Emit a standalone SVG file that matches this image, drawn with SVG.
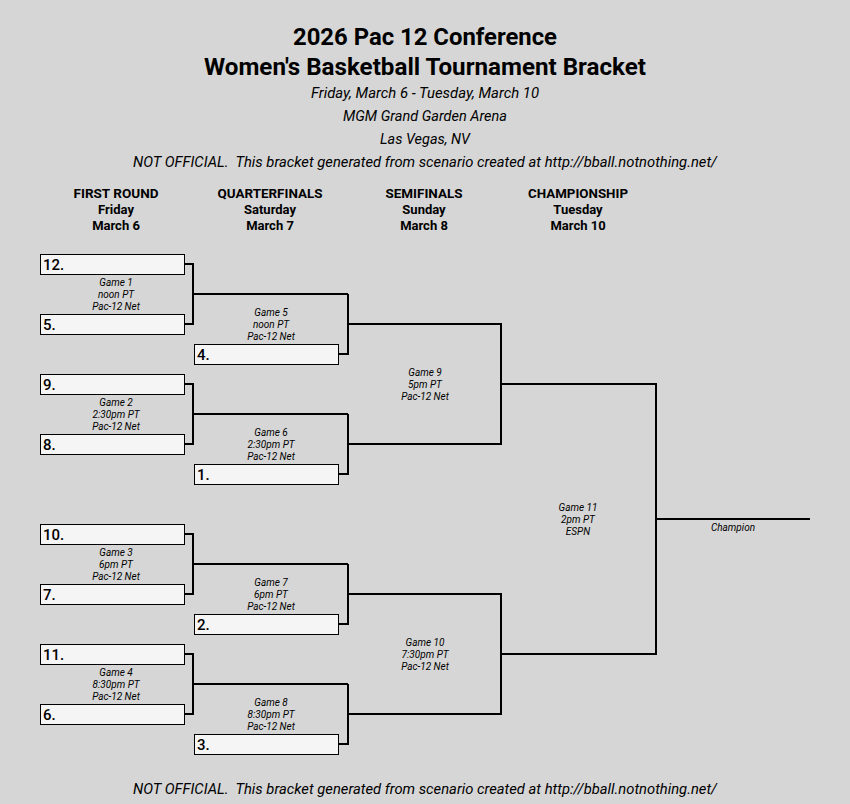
<svg xmlns="http://www.w3.org/2000/svg" width="850" height="804" viewBox="0 0 850 804">
<style>
text{font-family:Roboto,"Liberation Sans",sans-serif;fill:#000}
.t{font-size:23px;font-weight:bold;text-anchor:middle}
.s{font-size:14px;font-style:italic;text-anchor:middle}
.h{font-size:13px;font-weight:bold;text-anchor:middle}
.g{font-size:10px;font-style:italic;text-anchor:middle}
.seed{font-size:15px;font-weight:500}
.box{fill:#f5f5f5;stroke:#000;stroke-width:1}
.c{fill:none;stroke:#000;stroke-width:2}
</style>
<rect width="850" height="804" fill="#d6d6d6"/>
<g id="title">
<text class="t" x="425" y="45" textLength="264" lengthAdjust="spacingAndGlyphs">2026 Pac 12 Conference</text>
<text class="t" x="425" y="75" textLength="442" lengthAdjust="spacingAndGlyphs">Women's Basketball Tournament Bracket</text>
<text class="s" x="425" y="98" textLength="228" lengthAdjust="spacingAndGlyphs">Friday, March 6 - Tuesday, March 10</text>
<text class="s" x="425" y="121" textLength="164" lengthAdjust="spacingAndGlyphs">MGM Grand Garden Arena</text>
<text class="s" x="425" y="144" textLength="90" lengthAdjust="spacingAndGlyphs">Las Vegas, NV</text>
<text class="s" x="425" y="167" textLength="584" lengthAdjust="spacingAndGlyphs">NOT OFFICIAL.&#160; This bracket generated from scenario created at http://bball.notnothing.net/</text>
<text class="s" x="425" y="794" textLength="584" lengthAdjust="spacingAndGlyphs">NOT OFFICIAL.&#160; This bracket generated from scenario created at http://bball.notnothing.net/</text>
</g>
<g id="headers">
<text class="h" x="116" y="198" textLength="85" lengthAdjust="spacingAndGlyphs">FIRST ROUND</text>
<text class="h" x="116" y="214">Friday</text>
<text class="h" x="116" y="230">March 6</text>
<text class="h" x="270" y="198" textLength="105" lengthAdjust="spacingAndGlyphs">QUARTERFINALS</text>
<text class="h" x="270" y="214">Saturday</text>
<text class="h" x="270" y="230">March 7</text>
<text class="h" x="424" y="198" textLength="77" lengthAdjust="spacingAndGlyphs">SEMIFINALS</text>
<text class="h" x="424" y="214">Sunday</text>
<text class="h" x="424" y="230">March 8</text>
<text class="h" x="578" y="198" textLength="100" lengthAdjust="spacingAndGlyphs">CHAMPIONSHIP</text>
<text class="h" x="578" y="214">Tuesday</text>
<text class="h" x="578" y="230">March 10</text>
</g>
<g id="connectors">
<path class="c" d="M184 264H193V324H184M193 294H348M339 354H348V294M348 324H501V444H348M184 384H193V444H184M193 414H348M339 474H348V414"/>
<path class="c" d="M184 534H193V594H184M193 564H348M339 624H348V564M348 594H501V714H348M184 654H193V714H184M193 684H348M339 744H348V684"/>
<path class="c" d="M501 384H656V654H501M656 519H810"/>
</g>
<g id="seed12"><rect class="box" x="40.5" y="254.5" width="144" height="20"/><text class="seed" x="43" y="270">12.</text></g>
<g id="seed5"><rect class="box" x="40.5" y="314.5" width="144" height="20"/><text class="seed" x="43" y="330">5.</text></g>
<g id="seed4"><rect class="box" x="194.5" y="344.5" width="144" height="20"/><text class="seed" x="197" y="360">4.</text></g>
<g id="seed9"><rect class="box" x="40.5" y="374.5" width="144" height="20"/><text class="seed" x="43" y="390">9.</text></g>
<g id="seed8"><rect class="box" x="40.5" y="434.5" width="144" height="20"/><text class="seed" x="43" y="450">8.</text></g>
<g id="seed1"><rect class="box" x="194.5" y="464.5" width="144" height="20"/><text class="seed" x="197" y="480">1.</text></g>
<g id="seed10"><rect class="box" x="40.5" y="524.5" width="144" height="20"/><text class="seed" x="43" y="540">10.</text></g>
<g id="seed7"><rect class="box" x="40.5" y="584.5" width="144" height="20"/><text class="seed" x="43" y="600">7.</text></g>
<g id="seed2"><rect class="box" x="194.5" y="614.5" width="144" height="20"/><text class="seed" x="197" y="630">2.</text></g>
<g id="seed11"><rect class="box" x="40.5" y="644.5" width="144" height="20"/><text class="seed" x="43" y="660">11.</text></g>
<g id="seed6"><rect class="box" x="40.5" y="704.5" width="144" height="20"/><text class="seed" x="43" y="720">6.</text></g>
<g id="seed3"><rect class="box" x="194.5" y="734.5" width="144" height="20"/><text class="seed" x="197" y="750">3.</text></g>
<g id="game1"><text class="g" x="116" y="286">Game 1</text><text class="g" x="116" y="298">noon PT</text><text class="g" x="116" y="310">Pac-12 Net</text></g>
<g id="game2"><text class="g" x="116" y="406">Game 2</text><text class="g" x="116" y="418">2:30pm PT</text><text class="g" x="116" y="430">Pac-12 Net</text></g>
<g id="game3"><text class="g" x="116" y="556">Game 3</text><text class="g" x="116" y="568">6pm PT</text><text class="g" x="116" y="580">Pac-12 Net</text></g>
<g id="game4"><text class="g" x="116" y="676">Game 4</text><text class="g" x="116" y="688">8:30pm PT</text><text class="g" x="116" y="700">Pac-12 Net</text></g>
<g id="game5"><text class="g" x="271" y="316">Game 5</text><text class="g" x="271" y="328">noon PT</text><text class="g" x="271" y="340">Pac-12 Net</text></g>
<g id="game6"><text class="g" x="271" y="436">Game 6</text><text class="g" x="271" y="448">2:30pm PT</text><text class="g" x="271" y="460">Pac-12 Net</text></g>
<g id="game7"><text class="g" x="271" y="586">Game 7</text><text class="g" x="271" y="598">6pm PT</text><text class="g" x="271" y="610">Pac-12 Net</text></g>
<g id="game8"><text class="g" x="271" y="706">Game 8</text><text class="g" x="271" y="718">8:30pm PT</text><text class="g" x="271" y="730">Pac-12 Net</text></g>
<g id="game9"><text class="g" x="425" y="376">Game 9</text><text class="g" x="425" y="388">5pm PT</text><text class="g" x="425" y="400">Pac-12 Net</text></g>
<g id="game10"><text class="g" x="425" y="646">Game 10</text><text class="g" x="425" y="658">7:30pm PT</text><text class="g" x="425" y="670">Pac-12 Net</text></g>
<g id="game11"><text class="g" x="578" y="511">Game 11</text><text class="g" x="578" y="523">2pm PT</text><text class="g" x="578" y="535">ESPN</text></g>
<g id="champion"><text class="g" x="733" y="531">Champion</text></g>
</svg>
